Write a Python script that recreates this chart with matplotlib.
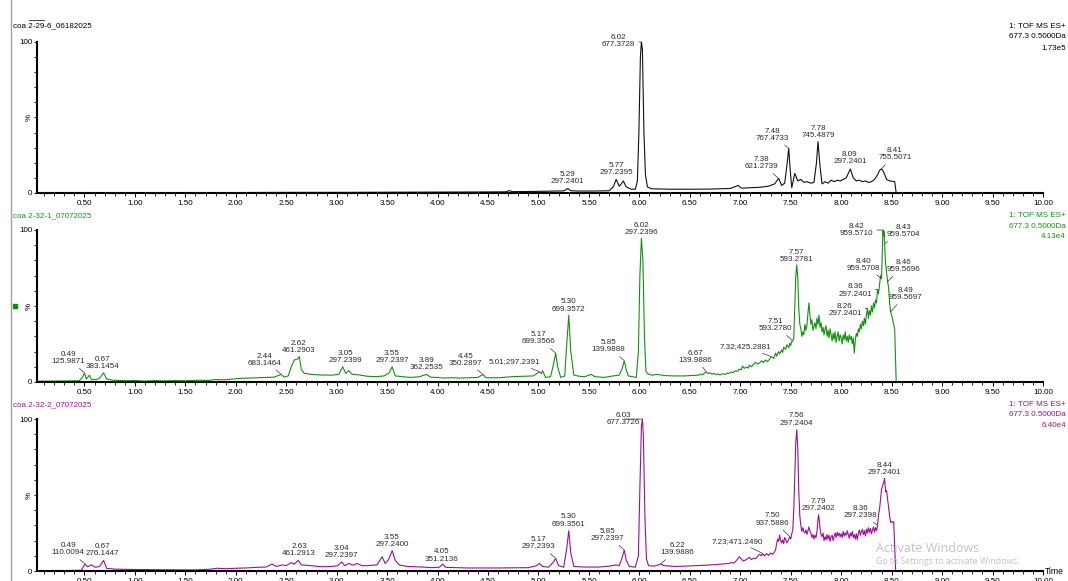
import numpy as np
import matplotlib.pyplot as plt
from matplotlib.lines import Line2D
from matplotlib.patches import Rectangle

plt.rcParams['font.family'] = ['Liberation Sans', 'DejaVu Sans']

# sample names / header info for each trace
titles = ['coa 2-29-6_06182025', 'coa 2-32-1_07072025', 'coa 2-32-2_07072025']
header_lines = ['1: TOF MS ES+', '677.3 0.5000Da']
max_counts = ['1.73e5', '4.13e4', '6.40e4']
colors = ['#111111', '#139013', '#9a109a']

# chromatograms: (retention time [min], relative intensity [%])
trace1 = [
    (0.03, 0.3), (0.5, 0.3), (1.0, 0.2), (1.5, 0.3), (2.0, 0.3), (2.5, 0.4), (3.0, 0.4),
    (3.5, 0.5), (4.0, 0.6), (4.5, 0.7), (4.68, 0.8), (4.71, 1.6), (4.74, 0.9), (4.9, 1.0),
    (5.1, 1.2), (5.25, 1.4), (5.29, 3.0), (5.32, 1.5), (5.40, 1.3), (5.55, 1.3), (5.70, 1.5),
    (5.74, 4.0), (5.77, 9.0), (5.80, 4.5), (5.82, 6.0), (5.84, 8.0), (5.87, 4.0), (5.92, 2.5),
    (5.96, 2.5), (5.98, 8.0), (5.995, 40.0), (6.01, 90.0), (6.02, 100.0), (6.03, 95.0),
    (6.045, 40.0), (6.06, 12.0), (6.08, 4.0), (6.12, 2.8), (6.3, 2.5), (6.5, 2.5), (6.7, 2.6),
    (6.9, 3.0), (6.98, 5.0), (7.01, 3.2), (7.1, 3.5), (7.2, 3.8), (7.28, 4.5), (7.34, 6.0),
    (7.38, 9.7), (7.41, 5.0), (7.44, 6.5), (7.465, 20.0), (7.48, 29.6), (7.495, 15.0),
    (7.51, 3.5), (7.54, 13.0), (7.57, 8.0), (7.60, 9.0), (7.63, 7.0), (7.66, 7.5), (7.70, 6.5),
    (7.73, 7.0), (7.755, 20.0), (7.77, 34.0), (7.79, 18.0), (7.81, 6.0), (7.84, 7.5),
    (7.87, 6.5), (7.90, 8.5), (7.93, 7.5), (7.96, 8.5), (7.99, 8.0), (8.02, 9.0), (8.05, 10.0),
    (8.09, 15.9), (8.12, 10.0), (8.15, 8.0), (8.18, 8.5), (8.21, 7.5), (8.24, 8.0), (8.27, 7.0),
    (8.30, 7.5), (8.33, 9.0), (8.36, 12.0), (8.38, 15.0), (8.40, 16.0), (8.42, 14.0),
    (8.45, 9.0), (8.48, 8.0), (8.53, 7.5), (8.545, 0.0), (10.0, 0.0),
]
trace2 = [
    (0.03, 0.5), (0.2, 0.6), (0.35, 0.7), (0.45, 0.9), (0.48, 3.0), (0.50, 6.0), (0.52, 2.0),
    (0.55, 4.5), (0.57, 1.5), (0.62, 1.6), (0.65, 2.5), (0.69, 6.0), (0.72, 2.0), (0.78, 1.2),
    (0.9, 0.8), (1.0, 1.0), (1.1, 0.6), (1.2, 0.9), (1.3, 0.7), (1.4, 1.0), (1.5, 0.8),
    (1.64, 1.2), (1.72, 1.0), (1.8, 1.6), (1.9, 1.5), (1.97, 2.0), (2.05, 2.4), (2.14, 2.6),
    (2.22, 2.8), (2.30, 3.0), (2.38, 3.2), (2.45, 5.0), (2.48, 3.2), (2.52, 4.0), (2.55, 10.0),
    (2.58, 14.5), (2.61, 15.0), (2.63, 16.7), (2.65, 8.0), (2.68, 5.7), (2.75, 5.0),
    (2.85, 4.6), (2.95, 4.5), (3.02, 5.0), (3.06, 10.0), (3.09, 5.7), (3.12, 7.5), (3.15, 5.2),
    (3.23, 4.6), (3.30, 3.8), (3.39, 3.5), (3.47, 4.0), (3.52, 6.0), (3.55, 10.0), (3.58, 4.0),
    (3.65, 3.5), (3.73, 3.0), (3.82, 3.5), (3.89, 5.0), (3.93, 3.2), (4.0, 3.0), (4.06, 2.6),
    (4.15, 2.8), (4.22, 2.6), (4.33, 2.8), (4.40, 3.0), (4.45, 5.0), (4.48, 2.8), (4.60, 2.8),
    (4.74, 3.5), (4.85, 3.8), (4.95, 4.0), (5.01, 6.8), (5.03, 5.5), (5.04, 7.5), (5.07, 3.0),
    (5.12, 3.5), (5.15, 12.0), (5.17, 19.0), (5.19, 10.0), (5.22, 3.0), (5.26, 4.0),
    (5.28, 25.0), (5.30, 44.0), (5.32, 20.0), (5.35, 4.6), (5.40, 3.8), (5.46, 3.5),
    (5.52, 5.0), (5.56, 3.5), (5.65, 3.0), (5.74, 4.0), (5.80, 4.5), (5.83, 9.0), (5.85, 14.0),
    (5.87, 8.0), (5.89, 4.0), (5.93, 3.5), (5.97, 3.0), (5.99, 20.0), (6.005, 70.0),
    (6.02, 94.5), (6.035, 80.0), (6.05, 30.0), (6.065, 7.0), (6.08, 5.5), (6.12, 4.5),
    (6.18, 5.0), (6.25, 4.2), (6.35, 4.0), (6.45, 4.0), (6.52, 4.3),
    (6.59, 4.5), (6.61, 5.2), (6.63, 4.8), (6.66, 6.8), (6.68, 5.6), (6.70, 6.0), (6.72, 5.2),
    (6.74, 5.6), (6.76, 4.9), (6.78, 5.3), (6.80, 4.6), (6.82, 5.4), (6.85, 5.0), (6.87, 5.8),
    (6.89, 5.7), (6.91, 6.6), (6.93, 6.2), (6.95, 7.4), (6.97, 7.0), (6.99, 8.5), (7.01, 8.0),
    (7.02, 10.5), (7.04, 9.0), (7.06, 9.8), (7.08, 9.2), (7.09, 11.0), (7.11, 10.0),
    (7.13, 11.5), (7.15, 13.0), (7.17, 11.8), (7.19, 12.5), (7.21, 14.0), (7.23, 12.8),
    (7.25, 14.5), (7.27, 13.5), (7.29, 15.0), (7.31, 16.6), (7.33, 15.5), (7.35, 19.0),
    (7.36, 17.0), (7.38, 20.0), (7.39, 18.5), (7.41, 21.0), (7.42, 19.5), (7.43, 23.0),
    (7.45, 21.5), (7.46, 24.5), (7.48, 22.5), (7.49, 25.5), (7.50, 24.0), (7.51, 26.5),
    (7.52, 27.0), (7.53, 29.0), (7.54, 50.0), (7.55, 70.0), (7.56, 77.0), (7.57, 68.0),
    (7.58, 48.0), (7.59, 38.0), (7.60, 35.0), (7.61, 30.0), (7.62, 33.0), (7.63, 31.0),
    (7.64, 38.0), (7.65, 34.0), (7.66, 37.0), (7.67, 45.0), (7.68, 52.0), (7.69, 44.0),
    (7.70, 38.0), (7.71, 41.0), (7.72, 34.0), (7.73, 37.0), (7.74, 39.0), (7.75, 35.0),
    (7.76, 42.0), (7.77, 38.0), (7.78, 44.0), (7.79, 36.0), (7.80, 39.0), (7.81, 33.0),
    (7.82, 36.0), (7.83, 31.0), (7.84, 35.0), (7.85, 37.0), (7.86, 30.0), (7.87, 34.0),
    (7.88, 29.0), (7.89, 35.0), (7.90, 31.0), (7.91, 27.0), (7.92, 32.0), (7.93, 28.0),
    (7.94, 33.0), (7.95, 26.0), (7.96, 30.0), (7.97, 33.0), (7.98, 27.0), (7.99, 31.0),
    (8.00, 29.0), (8.01, 25.0), (8.02, 31.0), (8.03, 28.0), (8.04, 33.0), (8.05, 27.0),
    (8.06, 30.0), (8.07, 26.0), (8.08, 31.0), (8.09, 28.0), (8.10, 30.0), (8.11, 25.0),
    (8.12, 29.0), (8.13, 19.0), (8.14, 28.0), (8.15, 32.0), (8.16, 30.0), (8.17, 35.0),
    (8.18, 33.0), (8.19, 38.0), (8.20, 35.0), (8.21, 40.0), (8.22, 37.0), (8.23, 42.0),
    (8.24, 38.0), (8.25, 44.0), (8.26, 48.5), (8.27, 42.0), (8.28, 47.0), (8.29, 44.0),
    (8.30, 50.0), (8.31, 46.0), (8.32, 52.0), (8.33, 49.0), (8.34, 54.0), (8.35, 52.0),
    (8.36, 61.0), (8.37, 58.0), (8.38, 64.0), (8.39, 70.0), (8.40, 68.0), (8.405, 80.0),
    (8.41, 92.0), (8.415, 100.0), (8.42, 96.0), (8.425, 99.0), (8.43, 91.0), (8.435, 84.0),
    (8.44, 78.0), (8.45, 72.0), (8.46, 66.0), (8.47, 62.0), (8.48, 52.0), (8.49, 46.0),
    (8.50, 44.0), (8.51, 41.0), (8.52, 38.0), (8.53, 35.0), (8.545, 0.0), (10.0, 0.0),
]
trace3 = [
    (0.03, 0.3), (0.3, 0.3), (0.47, 0.5), (0.505, 4.6), (0.53, 2.8), (0.57, 4.0), (0.61, 2.4),
    (0.65, 3.0), (0.69, 7.0), (0.72, 1.8), (0.8, 1.2), (1.0, 1.0), (1.3, 0.8), (1.6, 0.7),
    (1.75, 1.2), (1.81, 1.8), (1.9, 1.5), (2.0, 1.8), (2.1, 2.0), (2.2, 2.4), (2.3, 2.6),
    (2.36, 4.6), (2.40, 3.0), (2.46, 4.0), (2.50, 3.5), (2.55, 5.5), (2.58, 4.5), (2.62, 7.0),
    (2.65, 4.0), (2.75, 3.5), (2.85, 2.8), (2.95, 3.0), (3.01, 3.5), (3.05, 6.0), (3.08, 3.5),
    (3.12, 5.0), (3.16, 3.8), (3.2, 5.0), (3.25, 3.5), (3.30, 3.5), (3.40, 4.0), (3.45, 9.4),
    (3.48, 5.0), (3.51, 7.0), (3.55, 13.4), (3.58, 7.0), (3.62, 4.0), (3.70, 3.0), (3.85, 2.6),
    (3.95, 2.2), (4.02, 2.5), (4.05, 4.6), (4.08, 2.4), (4.3, 2.0), (4.6, 2.0), (4.9, 2.2),
    (4.98, 3.5), (5.01, 5.0), (5.04, 3.0), (5.10, 2.5), (5.15, 6.0), (5.17, 8.3), (5.20, 3.5),
    (5.25, 2.5), (5.28, 15.0), (5.30, 26.5), (5.32, 12.0), (5.35, 3.0), (5.45, 2.6),
    (5.60, 2.6), (5.70, 3.2), (5.77, 4.0), (5.80, 3.5), (5.83, 9.0), (5.85, 13.8), (5.87, 7.0),
    (5.90, 3.0), (5.96, 2.5), (5.99, 10.0), (6.005, 55.0), (6.02, 95.0), (6.03, 100.0),
    (6.04, 88.0), (6.055, 35.0), (6.07, 8.0), (6.09, 3.5), (6.15, 3.2), (6.21, 4.6),
    (6.25, 3.5), (6.35, 3.0), (6.45, 3.2), (6.55, 3.5), (6.65, 3.8), (6.75, 4.2),
    (6.89, 5.0), (6.91, 5.5), (6.93, 5.2), (6.95, 6.0), (6.97, 7.5), (6.99, 9.4), (7.01, 8.0),
    (7.03, 6.5), (7.05, 7.2), (7.07, 8.0), (7.09, 9.0), (7.11, 7.5), (7.13, 8.5), (7.15, 8.0),
    (7.17, 9.5), (7.19, 11.0), (7.21, 10.0), (7.22, 11.6), (7.24, 10.0), (7.26, 11.5),
    (7.28, 10.2), (7.30, 11.8), (7.32, 11.0), (7.34, 12.7), (7.35, 14.0), (7.36, 18.0),
    (7.37, 21.0), (7.38, 19.5), (7.39, 23.7), (7.40, 20.0), (7.41, 18.5), (7.42, 20.5),
    (7.43, 18.0), (7.44, 22.0), (7.45, 21.0), (7.46, 18.5), (7.47, 19.5), (7.48, 21.0),
    (7.49, 22.6), (7.50, 21.0), (7.51, 24.5), (7.52, 27.0), (7.53, 40.0), (7.54, 62.0),
    (7.55, 85.0), (7.56, 93.0), (7.57, 80.0), (7.58, 52.0), (7.59, 36.0), (7.60, 30.0),
    (7.61, 26.0), (7.62, 28.5), (7.63, 26.0), (7.64, 25.0), (7.65, 27.0), (7.66, 24.0),
    (7.67, 26.5), (7.68, 29.0), (7.69, 26.0), (7.70, 25.0), (7.71, 22.0), (7.72, 24.0),
    (7.73, 21.0), (7.74, 23.5), (7.75, 22.0), (7.76, 26.0), (7.77, 34.0), (7.776, 37.0),
    (7.785, 32.0), (7.79, 28.0), (7.80, 24.0), (7.81, 22.5), (7.82, 25.0), (7.83, 20.0),
    (7.84, 22.5), (7.85, 20.6), (7.86, 24.0), (7.87, 21.0), (7.88, 23.5), (7.89, 19.5),
    (7.90, 22.5), (7.91, 23.5), (7.92, 20.0), (7.93, 23.0), (7.94, 25.0), (7.95, 22.0),
    (7.96, 25.5), (7.97, 23.0), (7.98, 25.0), (7.99, 22.5), (8.00, 24.5), (8.01, 22.0),
    (8.02, 26.0), (8.03, 23.0), (8.04, 25.0), (8.05, 23.5), (8.06, 26.5), (8.07, 24.0),
    (8.08, 21.5), (8.09, 25.0), (8.10, 23.0), (8.11, 26.0), (8.12, 22.0), (8.13, 24.0),
    (8.14, 21.0), (8.15, 24.5), (8.16, 20.6), (8.17, 25.0), (8.18, 27.0), (8.19, 23.5),
    (8.20, 26.0), (8.21, 27.5), (8.22, 24.0), (8.23, 26.5), (8.24, 23.0), (8.25, 27.5),
    (8.26, 25.0), (8.27, 28.5), (8.28, 25.5), (8.29, 28.0), (8.30, 24.5), (8.31, 27.0),
    (8.32, 29.0), (8.33, 25.5), (8.34, 28.5), (8.35, 26.5), (8.36, 30.0), (8.37, 37.0),
    (8.38, 41.0), (8.39, 47.0), (8.40, 54.0), (8.41, 56.0), (8.42, 58.0), (8.43, 61.0),
    (8.44, 52.0), (8.45, 53.0), (8.46, 47.0), (8.47, 42.0), (8.48, 36.0), (8.49, 32.0),
    (8.50, 32.5), (8.51, 32.0), (8.52, 32.5), (8.54, 0.0), (10.0, 0.0),
]

# peak labels: (text, peak time, peak intensity)
peaks1 = [
    ('5.29\n297.2401', 5.29, 3.0), ('5.77\n297.2395', 5.77, 9.0),
    ('6.02\n677.3728', 6.02, 100.0), ('7.38\n621.2739', 7.38, 9.7),
    ('7.48\n767.4733', 7.48, 29.6), ('7.78\n745.4879', 7.77, 34.0),
    ('8.09\n297.2401', 8.09, 15.9), ('8.41\n755.5071', 8.40, 16.0),
]
peaks2 = [
    ('0.49\n125.9871', 0.50, 6.0), ('0.67\n383.1454', 0.69, 6.0),
    ('2.44\n683.1464', 2.45, 5.0), ('2.62\n461.2903', 2.63, 16.7),
    ('3.05\n297.2399', 3.06, 10.0), ('3.55\n297.2397', 3.55, 10.0),
    ('3.89\n362.2535', 3.89, 5.0), ('4.45\n350.2897', 4.45, 5.0),
    ('5.01;297.2391', 5.01, 6.8), ('5.17\n699.3566', 5.17, 19.0),
    ('5.30\n699.3572', 5.30, 44.0), ('5.85\n139.9888', 5.85, 14.0),
    ('6.02\n297.2396', 6.02, 94.5), ('6.67\n139.9886', 6.66, 6.8),
    ('7.32;425.2881', 7.31, 16.6), ('7.51\n593.2780', 7.52, 27.0),
    ('7.57\n593.2781', 7.56, 77.0), ('8.26\n297.2401', 8.26, 48.5),
    ('8.36\n297.2401', 8.36, 61.0), ('8.40\n959.5708', 8.40, 68.0),
    ('8.42\n959.5710', 8.415, 100.0), ('8.43\n959.5704', 8.43, 91.0),
    ('8.46\n959.5696', 8.46, 66.0), ('8.49\n959.5697', 8.49, 46.0),
]
peaks3 = [
    ('0.49\n110.0094', 0.505, 4.6), ('0.67\n276.1447', 0.69, 7.0),
    ('2.63\n461.2913', 2.62, 7.0), ('3.04\n297.2397', 3.05, 6.0),
    ('3.55\n297.2400', 3.55, 13.4), ('4.05\n351.2136', 4.05, 4.6),
    ('5.17\n297.2393', 5.17, 8.3), ('5.30\n699.3561', 5.30, 26.5),
    ('5.85\n297.2397', 5.85, 13.8), ('6.03\n677.3726', 6.03, 100.0),
    ('6.22\n139.9886', 6.21, 4.6), ('7.23;471.2490', 7.22, 11.6),
    ('7.50\n937.5886', 7.49, 22.6), ('7.56\n297.2404', 7.56, 93.0),
    ('7.79\n297.2402', 7.776, 37.0), ('8.36\n297.2398', 8.36, 30.0),
    ('8.44\n297.2401', 8.43, 61.0),
]

# label placement (text centre in data units, draw leader line?)
lay1 = [(5.287, 9.8, False), (5.77, 15.8, False), (5.795, 100.5, True), (7.205, 19.7, True),
        (7.314, 38.6, True), (7.775, 40.6, False), (8.086, 23.2, False), (8.532, 25.7, True)]
lay2 = [(0.34, 15.8, True), (0.68, 12.5, False), (2.28, 14.7, True), (2.624, 22.9, False),
        (3.089, 16.3, False), (3.548, 16.6, False), (3.888, 11.8, False), (4.277, 14.6, True),
        (4.762, 13.2, True), (5.003, 28.8, True), (5.30, 50.3, False), (5.69, 23.5, True),
        (6.017, 100.5, False), (6.554, 16.6, True), (7.056, 23.2, True), (7.347, 37.5, True),
        (7.557, 82.9, False), (8.037, 47.4, True), (8.139, 60.2, True), (8.218, 77.2, True),
        (8.155, 99.8, True), (8.614, 99.1, True), (8.614, 76.4, True), (8.64, 57.8, True)]
lay3 = [(0.34, 14.3, True), (0.68, 13.6, False), (2.627, 13.6, False), (3.047, 12.3, False),
        (3.548, 19.8, False), (4.043, 10.2, False), (5.003, 18.2, True), (5.30, 33.2, False),
        (5.686, 23.7, True), (5.845, 100.0, True), (6.379, 14.3, True), (6.973, 19.7, True),
        (7.32, 33.8, True), (7.557, 99.7, False), (7.775, 43.4, False), (8.188, 38.8, True),
        (8.426, 67.3, False)]

W, H = 1068, 581
fig = plt.figure(figsize=(W / 100, H / 100), dpi=100)

def fx(px):
    return px / W

def fy(py):
    return 1 - py / H

# pixel rows of the 0% and 100% lines of each panel, and header rows
panel_rows = [(193, 42), (382, 230), (571, 419)]
head_rows = [(26, 37, 48), (215.7, 226.3, 236.7), (404.3, 415, 425.7)]
FS = 5.8

for k, (trace, peaks, lay) in enumerate(zip([trace1, trace2, trace3],
                                            [peaks1, peaks2, peaks3],
                                            [lay1, lay2, lay3])):
    y0, y100 = panel_rows[k]
    ax = fig.add_axes([fx(37), fy(y0), (1043 - 37) / W, (y0 - y100) / H])
    ax.patch.set_visible(False)
    t = [p[0] for p in trace]
    v = [p[1] for p in trace]
    ax.plot(t, v, color=colors[k], lw=0.8, clip_on=False)
    ax.set_xlim(0.03, 10.0)
    ax.set_ylim(0, 100)
    for s in ['top', 'right']:
        ax.spines[s].set_visible(False)
    for s in ['left', 'bottom']:
        ax.spines[s].set_linewidth(1.5)
    xt = np.arange(0.5, 10.01, 0.5)
    ax.set_xticks(xt)
    ax.set_xticklabels([f'{x:.2f}' for x in xt])
    ax.set_xticks(np.arange(0.1, 10.01, 0.1), minor=True)
    ax.tick_params(axis='x', which='major', length=3, width=0.7, pad=2, labelsize=FS)
    ax.tick_params(axis='x', which='minor', length=1.8, width=0.6)
    ax.set_yticks([0, 100])
    ax.set_yticklabels(['0', '100'])
    ax.set_yticks(np.arange(10, 100, 10), minor=True)
    ax.tick_params(axis='y', which='both', length=2.2, width=0.6, pad=1, labelsize=FS)
    ax.text(-0.008, 0.5, '%', transform=ax.transAxes, rotation=90,
            ha='center', va='center', fontsize=FS)

    for (txt, pt, pv), (tx, ty, lead) in zip(peaks, lay):
        if lead:
            ax.annotate(txt, xy=(pt, pv), xytext=(tx, ty), ha='center', va='center',
                        fontsize=FS, color='#2a2a2a', linespacing=1.05,
                        annotation_clip=False,
                        arrowprops=dict(arrowstyle='-', color='#333333', lw=0.5,
                                        shrinkA=0.5, shrinkB=0.5))
        else:
            ax.text(tx, ty, txt, ha='center', va='center', fontsize=FS,
                    color='#2a2a2a', linespacing=1.05, clip_on=False)

    # sample name and header
    tc = 'black' if k == 0 else colors[k]
    fig.text(fx(13), fy(head_rows[k][0]), titles[k], fontsize=FS, color=tc,
             ha='left', va='center')
    for j, line in enumerate(header_lines + [max_counts[k]]):
        fig.text(fx(1066), fy(head_rows[k][j]), line, fontsize=FS, color=tc,
                 ha='right', va='center')
    if k == 2:
        ax.text(1.002, 0.0, 'Time', transform=ax.transAxes, ha='left', va='center',
                fontsize=6.2)

# window decorations
fig.add_artist(Line2D([fx(11), fx(11)], [0, 1], color='#a0a0a0', lw=1.0))
fig.add_artist(Line2D([fx(29), fx(44)], [fy(20), fy(20)], color='#222222', lw=0.6))
fig.add_artist(Rectangle((fx(12.5), fy(308)), 4 / W, 4 / H, color='#108a10',
                         transform=fig.transFigure))
fig.text(fx(876), fy(548), 'Activate Windows', fontsize=9, color='#c2c2c2',
         family=['Open Sans', 'DejaVu Sans'], ha='left', va='center', zorder=10)
fig.text(fx(876), fy(562), 'Go to Settings to activate Windows.', fontsize=6.3,
         color='#c2c2c2', family=['Open Sans', 'DejaVu Sans'], ha='left', va='center',
         zorder=10)

fig.savefig('out.png', dpi=100)
plt.close(fig)
